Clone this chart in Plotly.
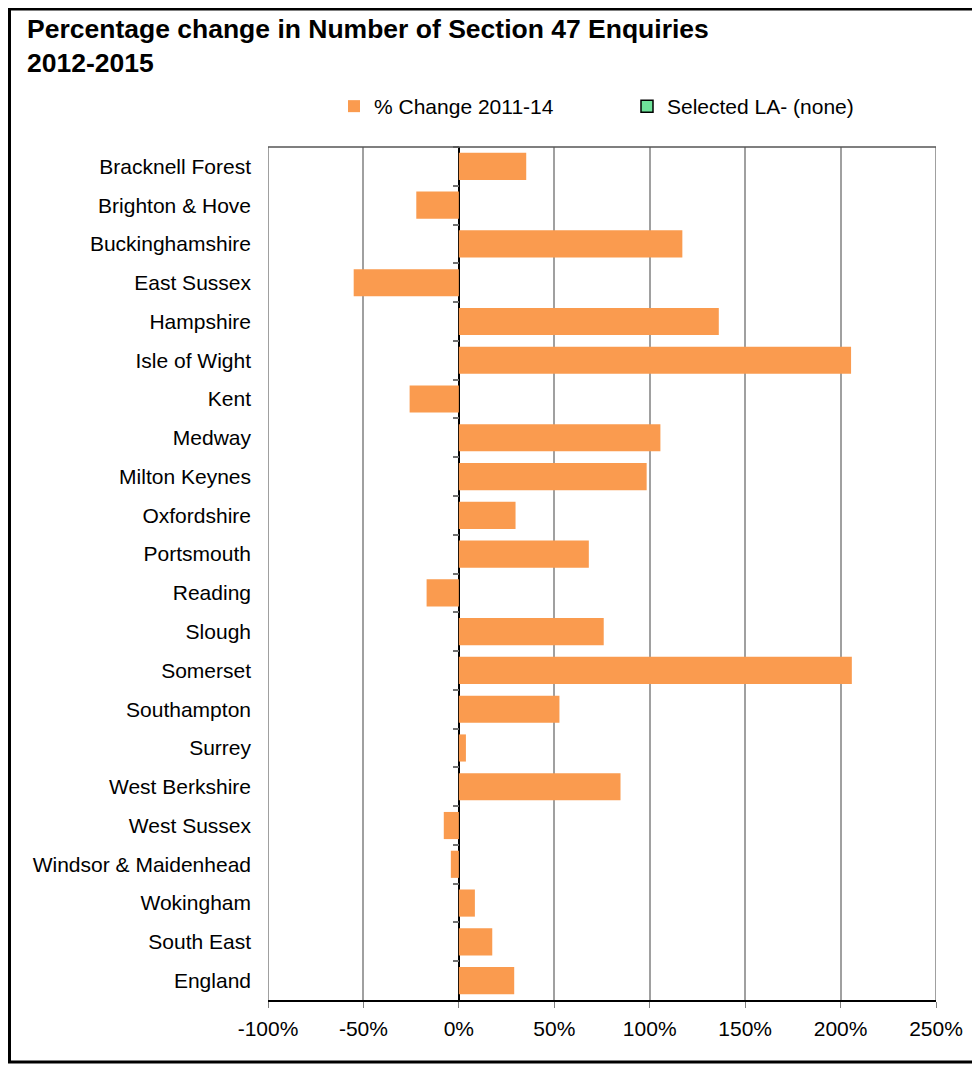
import plotly.graph_objects as go

categories = ["Bracknell Forest", "Brighton & Hove", "Buckinghamshire", "East Sussex",
              "Hampshire", "Isle of Wight", "Kent", "Medway", "Milton Keynes",
              "Oxfordshire", "Portsmouth", "Reading", "Slough", "Somerset",
              "Southampton", "Surrey", "West Berkshire", "West Sussex",
              "Windsor & Maidenhead", "Wokingham", "South East", "England"]
pct_change = [35.3, -22.3, 117.1, -55.1, 136.2, 205.5, -25.8, 105.6, 98.4, 29.7,
              68.1, -16.9, 75.9, 205.9, 52.7, 3.7, 84.7, -7.9, -4.2, 8.4, 17.5, 29.0]
selected_la = [None] * len(categories)
tick_vals = [-100, -50, 0, 50, 100, 150, 200, 250]
tick_text = ["-100%", "-50%", "0%", "50%", "100%", "150%", "200%", "250%"]

FONT = "Liberation Sans, Arial, sans-serif"
# the page body adds an 8px offset, so the figure covers the visible 972x1057 area
W, H = 972, 1057
ML, MR, MT, MB = 260, 44, 139, 65
PW, PH = W - ML - MR, H - MT - MB
BOTTOM = MT + PH
GRID = "#A0A0A0"

fig = go.Figure()
fig.add_trace(go.Bar(
    y=categories, x=pct_change, orientation="h", name="% Change 2011-14",
    marker=dict(color="#FA9B4F", line=dict(width=0)), hoverinfo="x+y",
))
fig.add_trace(go.Bar(
    y=categories, x=selected_la, orientation="h", name="Selected LA- (none)",
    marker=dict(color="#6FE39A", line=dict(color="black", width=1.5)),
))
# invisible trace carrying the tick axis drawn at the zero line
fig.add_trace(go.Scatter(y=categories, x=[None] * len(categories), yaxis="y2",
                         showlegend=False, hoverinfo="skip", mode="lines"))

xmin, xmax = tick_vals[0], tick_vals[-1]
zero_pos = (0 - xmin) / (xmax - xmin)
n = len(categories)
y_range = [n - 0.5, -0.5]

fig.update_layout(
    width=W, height=H,
    margin=dict(l=ML, r=MR, t=MT, b=MB, autoexpand=False),
    paper_bgcolor="white", plot_bgcolor="white",
    font=dict(family=FONT, size=21, color="black"),
    barmode="overlay", bargap=0.3,
    title=dict(text="<b>Percentage change in Number of Section 47 Enquiries<br>2012-2015</b>",
               x=19 / W, xref="container", xanchor="left",
               y=1 - 30 / H, yref="container", yanchor="top",
               font=dict(family=FONT, size=26.5, color="black")),
    legend=dict(orientation="h", x=(326 - ML) / PW, xanchor="left",
                y=(BOTTOM - 78) / PH, yanchor="top",
                font=dict(family=FONT, size=21, color="black"),
                entrywidth=248, traceorder="normal", bgcolor="rgba(0,0,0,0)"),
    xaxis=dict(range=[xmin, xmax], tickvals=tick_vals, ticktext=tick_text,
               showgrid=True, gridcolor=GRID, gridwidth=2,
               zeroline=True, zerolinecolor="black", zerolinewidth=1.5,
               showline=True, linecolor="black", linewidth=1.5,
               ticks="outside", ticklen=6, tickcolor="#808080", tickwidth=1,
               tickfont=dict(family=FONT, size=21, color="black"),
               ticklabelstandoff=3, fixedrange=True),
    yaxis=dict(type="category", categoryorder="array", categoryarray=categories,
               range=y_range, autorange=False, showgrid=False, zeroline=False,
               showline=False, ticks="", tickfont=dict(family=FONT, size=21, color="black"),
               ticklabelstandoff=16, fixedrange=True),
    yaxis2=dict(type="category", overlaying="y", matches="y", anchor="free",
                categoryorder="array", categoryarray=categories,
                range=y_range, autorange=False,
                position=zero_pos, side="left", showgrid=False, zeroline=False,
                showline=False, showticklabels=False, ticks="outside", ticklen=6,
                tickcolor="#707070", tickwidth=1.5, tickson="boundaries",
                fixedrange=True),
    shapes=[
        # gridlines at the range ends (left / right plot borders)
        dict(type="line", xref="x", yref="paper", x0=xmin, x1=xmin, y0=0, y1=1,
             line=dict(color=GRID, width=2), layer="below"),
        dict(type="line", xref="x", yref="paper", x0=xmax, x1=xmax, y0=0, y1=1,
             line=dict(color=GRID, width=2), layer="below"),
        # top border of plot area
        dict(type="line", xref="paper", yref="paper", x0=0, x1=1, y0=1, y1=1,
             line=dict(color="#555555", width=1.5)),
        # outer chart frame
        dict(type="rect", xref="paper", yref="paper",
             x0=(1.5 - ML) / PW, x1=(990 - ML) / PW,
             y0=(BOTTOM - 1054) / PH, y1=(BOTTOM - 1) / PH,
             line=dict(color="black", width=3), fillcolor="rgba(0,0,0,0)",
             layer="above"),
    ],
)

fig.write_html("out.html")
